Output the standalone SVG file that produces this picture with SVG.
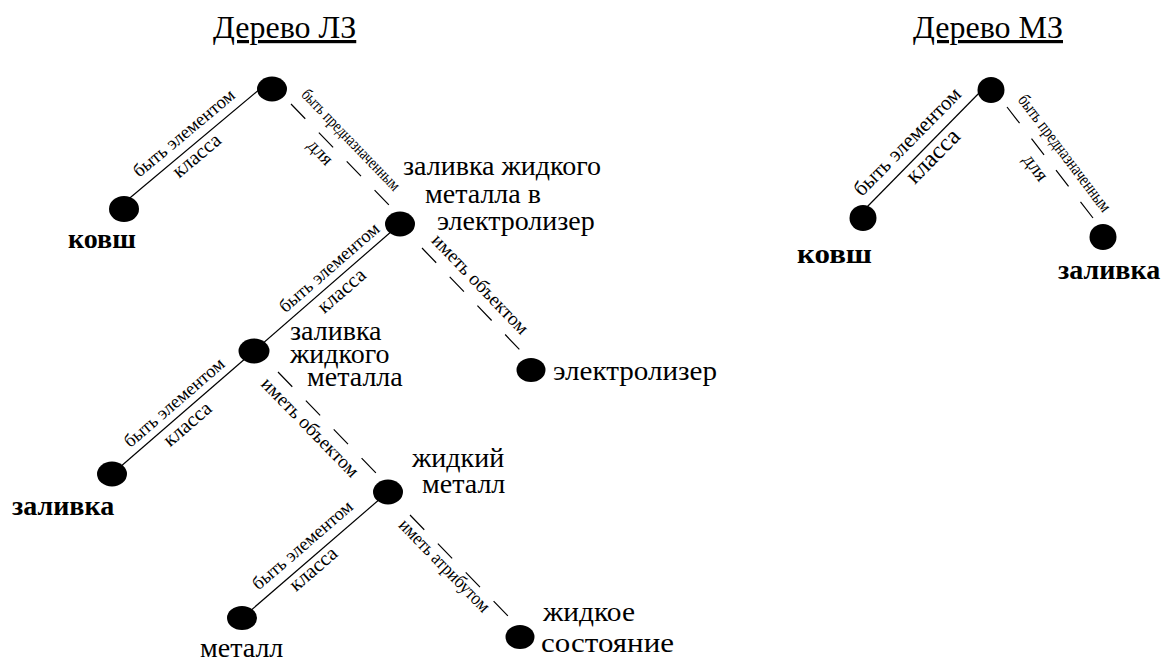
<svg xmlns="http://www.w3.org/2000/svg" width="1173" height="661" viewBox="0 0 1173 661">
<style>
.bg{fill:#fff}
.node{fill:#000}
.solid{stroke:#000;stroke-width:1.2;fill:none}
.dash{stroke:#000;stroke-width:1.2;fill:none;stroke-dasharray:20.5 19.5}
text{font-family:"Liberation Serif","Times New Roman",serif;fill:#000}
.lbl{font-size:28px}
.b{font-weight:bold}
.title{font-size:32px;text-decoration:underline}
.el{text-anchor:middle}
</style>
<rect class="bg" x="0" y="0" width="1173" height="661"/>
<text class="title" x="213" y="38">Дерево ЛЗ</text>
<text class="title" x="913" y="38">Дерево МЗ</text>
<g id="connectors">
<line class="solid" x1="260.5" y1="88.5" x2="129.5" y2="198.2"/>
<line class="solid" x1="400" y1="224" x2="254" y2="351"/>
<line class="solid" x1="254" y1="351" x2="112" y2="474"/>
<line class="solid" x1="388" y1="492" x2="242" y2="618"/>
<line class="solid" x1="984" y1="88" x2="866" y2="208"/>
<line class="dash" x1="291" y1="104" x2="390" y2="206"/>
<line class="dash" x1="422" y1="248" x2="520" y2="350"/>
<line class="dash" x1="278" y1="372" x2="378" y2="475"/>
<line class="dash" x1="410" y1="515" x2="510" y2="618"/>
<line class="dash" x1="1007" y1="107" x2="1093" y2="218"/>
<g id="edge-labels">
<text class="el" font-size="18.5" transform="translate(187.8,137.6) rotate(-39.9)">быть элементом</text>
<text class="el" font-size="20.5" transform="translate(200.7,160.5) rotate(-39.9)">класса</text>
<text class="el" font-size="18.5" transform="translate(333.1,272) rotate(-41)">быть элементом</text>
<text class="el" font-size="20.5" transform="translate(345.8,295.5) rotate(-41)">класса</text>
<text class="el" font-size="18.5" transform="translate(178.1,407) rotate(-40.9)">быть элементом</text>
<text class="el" font-size="20.5" transform="translate(191.6,428.8) rotate(-40.9)">класса</text>
<text class="el" font-size="18.5" transform="translate(306.4,549.5) rotate(-40.8)">быть элементом</text>
<text class="el" font-size="20.5" transform="translate(317.5,573.8) rotate(-40.8)">класса</text>
<text class="el" font-size="21" transform="translate(912.1,146.3) rotate(-45.4)">быть элементом</text>
<text class="el" font-size="24" transform="translate(938.1,161.4) rotate(-45.4)">класса</text>
<text class="el" font-size="17" textLength="134" lengthAdjust="spacingAndGlyphs" transform="translate(347.1,143.6) rotate(46)">быть предназначенным</text>
<text class="el" font-size="19" transform="translate(316.1,156.4) rotate(46)">для</text>
<text class="el" font-size="19.5" transform="translate(475.7,288.4) rotate(46.2)">иметь объектом</text>
<text class="el" font-size="19.5" transform="translate(305.7,431.7) rotate(45.8)">иметь объектом</text>
<text class="el" font-size="19" textLength="122" lengthAdjust="spacingAndGlyphs" transform="translate(440.2,569.7) rotate(45.8)">иметь атрибутом</text>
<text class="el" font-size="18" textLength="142" lengthAdjust="spacingAndGlyphs" transform="translate(1060.1,156.6) rotate(53)">быть предназначенным</text>
<text class="el" font-size="19.5" transform="translate(1030.9,171.2) rotate(53)">для</text>
</g>
</g>
<g id="n1"><ellipse class="node" cx="272" cy="89" rx="15" ry="12.5"/></g>
<g id="n2"><ellipse class="node" cx="124" cy="209" rx="15" ry="13"/><text class="lbl b" x="68" y="248">ковш</text></g>
<g id="n3"><ellipse class="node" cx="400" cy="224" rx="15" ry="12.5"/><text class="lbl" x="403" y="175">заливка жидкого</text><text class="lbl" x="425" y="203">металла в</text><text class="lbl" x="437" y="230">электролизер</text></g>
<g id="n4"><ellipse class="node" cx="254" cy="351" rx="15.5" ry="12.5"/><text class="lbl" x="290" y="340">заливка</text><text class="lbl" x="290" y="363">жидкого</text><text class="lbl" x="307" y="386">металла</text></g>
<g id="n5"><ellipse class="node" cx="531" cy="370" rx="14.5" ry="12"/><text class="lbl" x="553" y="380" textLength="164" lengthAdjust="spacingAndGlyphs">электролизер</text></g>
<g id="n6"><ellipse class="node" cx="112" cy="474" rx="15" ry="12.5"/><text class="lbl b" x="12" y="515">заливка</text></g>
<g id="n7"><ellipse class="node" cx="388" cy="492" rx="15" ry="12.5"/><text class="lbl" x="412" y="467">жидкий</text><text class="lbl" x="422" y="493">металл</text></g>
<g id="n8"><ellipse class="node" cx="242" cy="618" rx="15" ry="12"/><text class="lbl" x="200" y="657">металл</text></g>
<g id="n9"><ellipse class="node" cx="520" cy="637" rx="14.5" ry="12"/><text class="lbl" x="543" y="621" textLength="92" lengthAdjust="spacingAndGlyphs">жидкое</text><text class="lbl" x="541" y="652" textLength="133" lengthAdjust="spacingAndGlyphs">состояние</text></g>
<g id="r1"><ellipse class="node" cx="991" cy="90" rx="13.5" ry="13"/></g>
<g id="r2"><ellipse class="node" cx="863" cy="218" rx="13.5" ry="13"/><text class="lbl b" x="797" y="263" textLength="75" lengthAdjust="spacingAndGlyphs">ковш</text></g>
<g id="r3"><ellipse class="node" cx="1103" cy="237" rx="13.5" ry="13"/><text class="lbl b" x="1058" y="279">заливка</text></g>
</svg>
